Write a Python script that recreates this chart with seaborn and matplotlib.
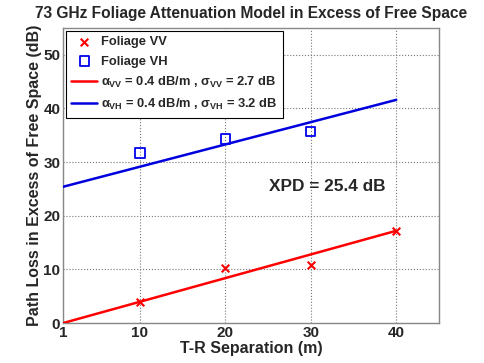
import numpy as np
import pandas as pd
import matplotlib
matplotlib.use("Agg")
import matplotlib.pyplot as plt
import seaborn as sns

# measured excess path loss (dB) at each T-R separation (m)
dist = [10, 20, 30, 40]
loss_vv = [3.9, 10.3, 10.9, 17.2]
dist_vh = [10, 20, 30]
loss_vh = [31.7, 34.3, 35.7]

# fitted model lines (end points)
fit_dist = [1, 40]
fit_vv = [0.0, 17.2]
fit_vh = [25.4, 41.6]

xticks = [1, 10, 20, 30, 40]
yticks = [0, 10, 20, 30, 40, 50]

sns.set_style("white")
plt.rcParams['font.family'] = ['Liberation Sans', 'DejaVu Sans']
plt.rcParams['font.weight'] = 'bold'
plt.rcParams['mathtext.fontset'] = 'custom'
plt.rcParams['mathtext.rm'] = 'Liberation Sans:bold'
plt.rcParams['mathtext.it'] = 'Liberation Sans:bold'
plt.rcParams['mathtext.bf'] = 'Liberation Sans:bold'

fig = plt.figure(figsize=(4.85, 3.63), dpi=100)
ax = fig.add_axes([0.130, 0.110, 0.775, 0.813])

df_vv = pd.DataFrame({"d": dist, "pl": loss_vv})
df_vh = pd.DataFrame({"d": dist_vh, "pl": loss_vh})
df_fit = pd.DataFrame({"d": fit_dist, "vv": fit_vv, "vh": fit_vh})

sns.scatterplot(data=df_vv, x="d", y="pl", marker="x", color="#ff0000", s=30,
                linewidth=1.5, ax=ax, label="Foliage VV", zorder=4)
sns.scatterplot(data=df_vh, x="d", y="pl", marker="s", facecolor="none",
                edgecolor="#0000ee", s=45, linewidth=1.3, ax=ax, label="Foliage VH", zorder=4)
sns.lineplot(data=df_fit, x="d", y="vv", color="#ff0000", linewidth=1.8, ax=ax,
             label=r"$\alpha_{VV}$ = 0.4 dB/m , $\sigma_{VV}$ = 2.7 dB", zorder=3)
sns.lineplot(data=df_fit, x="d", y="vh", color="#0000dd", linewidth=1.8, ax=ax,
             label=r"$\alpha_{VH}$ = 0.4 dB/m , $\sigma_{VH}$ = 3.2 dB", zorder=3)

ax.set_xlim(1, 45)
ax.set_ylim(0, 55)
ax.set_xticks(xticks)
ax.set_yticks(yticks)
ax.tick_params(direction="in", length=3, labelsize=11, color="#777777", pad=2)
for lab in ax.get_xticklabels() + ax.get_yticklabels():
    lab.set_fontweight("bold")
ax.grid(True, linestyle=":", color="#777777", linewidth=0.8)
for sp in ax.spines.values():
    sp.set_color("#888888")
    sp.set_linewidth(1.0)

ax.set_xlabel("T-R Separation (m)", fontsize=11.5, fontweight="bold", labelpad=1)
ax.set_ylabel("Path Loss in Excess of Free Space (dB)", fontsize=11.5, fontweight="bold", labelpad=1)
ax.set_title("73 GHz Foliage Attenuation Model in Excess of Free Space",
             fontsize=11.2, fontweight="bold", pad=7)

ax.text(25.1, 25.4, "XPD = 25.4 dB", fontsize=12.4, fontweight="bold", va="center", ha="left")

leg = ax.legend(loc="upper left", fontsize=9.3, frameon=True, fancybox=False,
                edgecolor="black", framealpha=1, borderaxespad=0.2, handlelength=2.0,
                labelspacing=0.55, borderpad=0.45, handletextpad=0.3)
leg.get_frame().set_linewidth(0.8)

fig.savefig("out.png", dpi=100)
